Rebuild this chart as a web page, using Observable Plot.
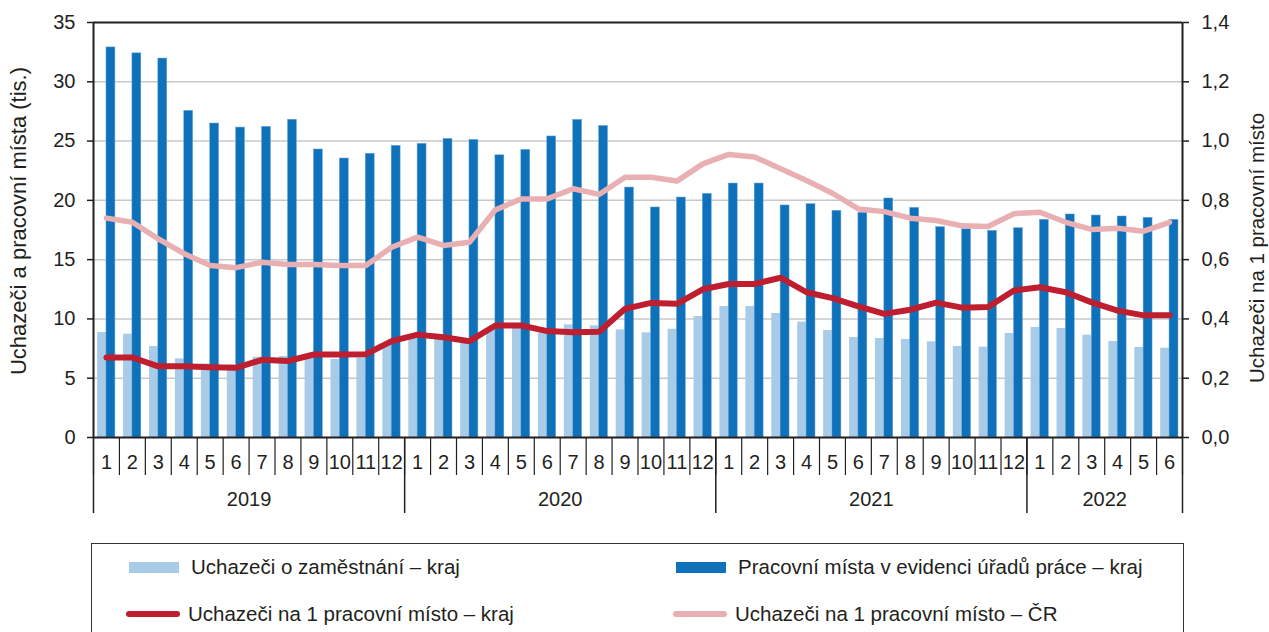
<!DOCTYPE html>
<html>
<head>
<meta charset="utf-8">
<script src="https://cdn.jsdelivr.net/npm/d3@7"></script>
<script src="https://cdn.jsdelivr.net/npm/@observablehq/plot@0.6"></script>
<style>
  html, body { margin: 0; padding: 0; background: #fff; }
  body { font-family: "Liberation Sans", Arial, sans-serif; color: #231f20; width: 1269px; height: 632px; overflow: hidden; position: relative; }
  #legend { position: absolute; left: 91px; top: 543px; width: 1093px; height: 120px; border: 1.5px solid #333; box-sizing: border-box; font-size: 20.5px; }
  .item { position: absolute; display: flex; align-items: center; height: 26px; }
  .sw { width: 50px; height: 11px; margin-right: 12px; }
  .ln { width: 54px; height: 6px; border-radius: 3px; margin-right: 8px; margin-left: -3px; }
</style>
</head>
<body>
<div id="chart"></div>
<div id="legend"></div>
<script>
// ---- data ----
const years = [2019, 2020, 2021, 2022];
const monthsPerYear = [12, 12, 12, 6];
// Uchazeči o zaměstnání – kraj (tis.)
const uchazeci = [
  8.86, 8.71, 7.67, 6.63, 6.2, 6.1, 6.77, 6.83, 6.9, 6.58, 6.72, 7.8,
  8.4, 8.3, 8.0, 9.1, 9.2, 8.8, 9.5, 9.42, 9.08, 8.83, 9.13, 10.2,
  11.05, 11.05, 10.46, 9.73, 9.02, 8.43, 8.35, 8.27, 8.07, 7.67, 7.62, 8.77,
  9.28, 9.19, 8.63, 8.1, 7.59, 7.53
];
// Pracovní místa v evidenci úřadů práce – kraj (tis.)
const mista = [
  32.9, 32.4, 31.96, 27.55, 26.48, 26.14, 26.2, 26.8, 24.29, 23.53, 23.93, 24.6,
  24.77, 25.19, 25.1, 23.8, 24.26, 25.39, 26.79, 26.28, 21.08, 19.4, 20.24, 20.55,
  21.42, 21.42, 19.57, 19.68, 19.12, 18.95, 20.16, 19.37, 17.74, 17.57, 17.43, 17.65,
  18.36, 18.81, 18.72, 18.64, 18.53, 18.36
];
// Uchazeči na 1 pracovní místo – kraj
const naMistoKraj = [
  0.27, 0.27, 0.24, 0.24, 0.237, 0.235, 0.262, 0.258, 0.28, 0.28, 0.281, 0.325,
  0.347, 0.338, 0.325, 0.378, 0.378, 0.359, 0.355, 0.357, 0.434, 0.454, 0.451, 0.50,
  0.518, 0.518, 0.539, 0.49, 0.47, 0.442, 0.417, 0.431, 0.455, 0.438, 0.44, 0.496,
  0.507, 0.49, 0.456, 0.428, 0.412, 0.412
];
// Uchazeči na 1 pracovní místo – ČR
const naMistoCR = [
  0.74, 0.726, 0.67, 0.62, 0.58, 0.573, 0.591, 0.584, 0.584, 0.58, 0.58, 0.642,
  0.676, 0.648, 0.659, 0.768, 0.805, 0.805, 0.839, 0.82, 0.878, 0.878, 0.865, 0.923,
  0.955, 0.946, 0.907, 0.867, 0.824, 0.771, 0.762, 0.74, 0.732, 0.714, 0.712, 0.755,
  0.76, 0.726, 0.702, 0.706, 0.696, 0.726
];
const leftTicks = [0, 5, 10, 15, 20, 25, 30, 35];
const rightMax = 1.4, leftMax = 35;
const ratio = leftMax / rightMax;

// ---- build table ----
const monthLabels = [];
const yearBounds = [0];
const yearCenters = [];
monthsPerYear.forEach((n, k) => {
  for (let m = 1; m <= n; m++) monthLabels.push(String(m));
  const start = yearBounds[yearBounds.length - 1];
  yearBounds.push(start + n);
  yearCenters.push(start + n / 2);
});
const data = monthLabels.map((m, i) => ({
  i, m, u: uchazeci[i], p: mista[i], kraj: naMistoKraj[i], cr: naMistoCR[i]
}));
const N = data.length;

const cLight = "#a8cbe8", cDark = "#0f71b9", cRed = "#be1e2d", cPink = "#e8b0b3";
const ink = "#231f20";
const fs = 20;

const chart = Plot.plot({
  width: 1269,
  height: 530,
  marginLeft: 93,
  marginRight: 87,
  marginTop: 22,
  marginBottom: 93,
  x: {domain: [0, N], axis: null},
  y: {domain: [0, leftMax], axis: null},
  style: {fontFamily: '"Liberation Sans", Arial, sans-serif', fontSize: fs + "px", color: ink, background: "white", overflow: "visible"},
  marks: [
    Plot.gridY(leftTicks.filter(t => t > 0 && t < leftMax), {stroke: "#c8c8c8", strokeOpacity: 1, strokeWidth: 1.5}),
    Plot.rect(data, {x1: d => d.i + 0.16, x2: d => d.i + 0.5, y1: 0, y2: "u", fill: cLight}),
    Plot.rect(data, {x1: d => d.i + 0.5, x2: d => d.i + 0.845, y1: 0, y2: "p", fill: cDark, stroke: "#6aa9dd", strokeWidth: 0.5}),
    Plot.line(data, {x: d => d.i + 0.5, y: d => d.cr * ratio, stroke: cPink, strokeWidth: 5.5, strokeLinejoin: "round", strokeLinecap: "round"}),
    Plot.line(data, {x: d => d.i + 0.5, y: d => d.kraj * ratio, stroke: cRed, strokeWidth: 6, strokeLinejoin: "round", strokeLinecap: "round"}),
    Plot.ruleY([0, leftMax], {stroke: ink, strokeWidth: 2}),
    Plot.ruleX([0, N], {stroke: ink, strokeWidth: 2}),
    Plot.axisY({anchor: "left", ticks: leftTicks, tickSize: 6, tickPadding: 12, tickFormat: d => String(d), label: null, stroke: ink, strokeWidth: 1.5, fontSize: fs}),
    Plot.axisY({anchor: "right", ticks: leftTicks, tickSize: 6, tickPadding: 13, tickFormat: d => (d / ratio).toFixed(1).replace(".", ","), label: null, stroke: ink, strokeWidth: 1.5, fontSize: fs}),
    Plot.axisX({ticks: d3.range(0, N + 1), tickSize: 38, tickFormat: () => "", label: null, stroke: ink, strokeWidth: 1.2}),
    Plot.axisX({ticks: yearBounds, tickSize: 76, tickFormat: () => "", label: null, stroke: ink, strokeWidth: 1.5}),
    Plot.axisX({ticks: data.map(d => d.i + 0.5), tickSize: 0, tickPadding: 17, tickFormat: v => monthLabels[Math.floor(v)], label: null, fontSize: fs}),
    Plot.axisX({ticks: yearCenters, tickSize: 0, tickPadding: 54, tickFormat: v => String(years[yearCenters.indexOf(v)]), label: null, fontSize: fs}),
    Plot.text(["Uchazeči a pracovní místa (tis.)"], {frameAnchor: "left", textAnchor: "middle", rotate: -90, dx: -75, dy: -9, fontSize: 22, fill: ink}),
    Plot.text(["Uchazeči na 1 pracovní místo"], {frameAnchor: "right", textAnchor: "middle", rotate: -90, dx: 75, dy: 18, fontSize: 20.5, fill: ink})
  ]
});
document.getElementById("chart").appendChild(chart);

// ---- legend ----
const legendItems = [
  {label: "Uchazeči o zaměstnání – kraj", type: "sw", color: cLight, col: 0, row: 0},
  {label: "Pracovní místa v evidenci úřadů práce – kraj", type: "sw", color: cDark, col: 1, row: 0},
  {label: "Uchazeči na 1 pracovní místo – kraj", type: "ln", color: cRed, col: 0, row: 1},
  {label: "Uchazeči na 1 pracovní místo – ČR", type: "ln", color: cPink, col: 1, row: 1}
];
const legend = document.getElementById("legend");
legendItems.forEach(it => {
  const div = document.createElement("div");
  div.className = "item";
  div.style.left = (it.col === 0 ? 37 : 584) + "px";
  div.style.top = (it.row === 0 ? 10 : 57) + "px";
  const s = document.createElement("span");
  s.className = it.type;
  s.style.background = it.color;
  const t = document.createElement("span");
  t.textContent = it.label;
  div.appendChild(s);
  div.appendChild(t);
  legend.appendChild(div);
});
</script>
</body>
</html>
